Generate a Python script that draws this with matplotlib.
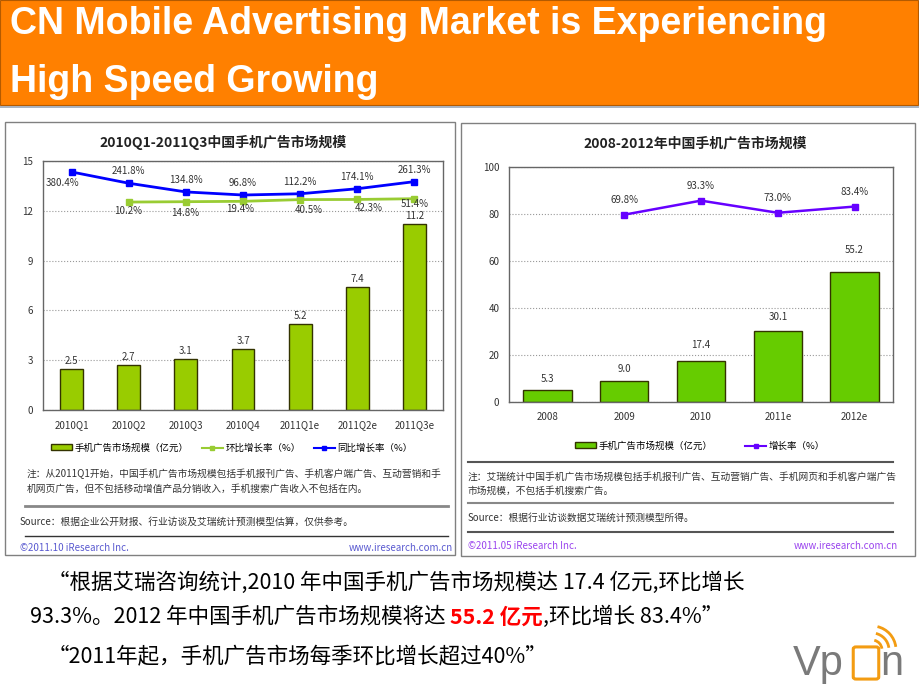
import matplotlib
matplotlib.use('Agg')
import matplotlib.pyplot as plt
from matplotlib.patches import Rectangle, Patch, FancyBboxPatch, Arc
from matplotlib.lines import Line2D

plt.rcParams['font.family'] = ['Noto Sans CJK SC', 'DejaVu Sans']

# 左图: 季度数据
q_labels = ['2010Q1', '2010Q2', '2010Q3', '2010Q4', '2011Q1e', '2011Q2e', '2011Q3e']
q_size = [2.5, 2.7, 3.1, 3.7, 5.2, 7.4, 11.2]
q_qoq = [10.2, 14.8, 19.4, 40.5, 42.3, 51.4]          # 环比, 从2010Q2开始
q_yoy = [380.4, 241.8, 134.8, 96.8, 112.2, 174.1, 261.3]  # 同比

# 右图: 年度数据
y_labels = ['2008', '2009', '2010', '2011e', '2012e']
y_size = [5.3, 9.0, 17.4, 30.1, 55.2]
y_growth = [69.8, 93.3, 73.0, 83.4]                   # 从2009开始

W, H = 920, 690
fig = plt.figure(figsize=(9.2, 6.9), dpi=100)


def box(x0, y0, x1, y1):
    return [x0 / W, 1 - y1 / H, (x1 - x0) / W, (y1 - y0) / H]


def ftext(x, y, s, **kw):
    return fig.text(x / W, 1 - y / H, s, **kw)


def hline(x0, x1, y, **kw):
    fig.add_artist(Line2D([x0 / W, x1 / W], [1 - y / H, 1 - y / H], **kw))


def rect(x0, y0, x1, y1, **kw):
    fig.add_artist(Rectangle((x0 / W, 1 - y1 / H), (x1 - x0) / W, (y1 - y0) / H,
                             transform=fig.transFigure, **kw))


### 标题栏
rect(0, 0, 918, 105, facecolor='#FF8000', edgecolor='#b35a00', lw=0.8)
hline(0, 920, 107, color='#9aa5b5', lw=1.2)
title_font = ['Liberation Sans Narrow', 'Liberation Sans']
ftext(10, 24, 'CN Mobile Advertising Market is Experiencing', color='white',
      fontsize=27, fontweight='bold', va='center', family=title_font)
ftext(10, 82, 'High Speed Growing', color='white',
      fontsize=27, fontweight='bold', va='center', family=title_font)

### 面板边框
rect(5, 122, 455, 555, facecolor='none', edgecolor='#808080', lw=1)
rect(461, 123, 915, 556, facecolor='none', edgecolor='#808080', lw=1)


def style_axes(ax, ymax, step):
    ax.set_ylim(0, ymax)
    ax.set_yticks(range(0, ymax + 1, step))
    ax.grid(axis='y', linestyle=':', color='#999999', lw=0.8)
    ax.set_axisbelow(True)
    ax.tick_params(length=0, labelsize=7, colors='#333333', pad=7)
    for s in ax.spines.values():
        s.set_color('#666666')
        s.set_linewidth(1)


def hide_twin(ax2):
    ax2.set_yticks([])
    for s in ax2.spines.values():
        s.set_visible(False)


### 左图
ax = fig.add_axes(box(43, 161, 443, 410))
xq = range(len(q_labels))
ax.bar(xq, q_size, width=0.4, color='#99CC00', edgecolor='#333300', lw=1)
ax.set_xlim(-0.5, len(q_labels) - 0.5)
ax.set_xticks(list(xq))
ax.set_xticklabels(q_labels)
style_axes(ax, 15, 3)
for i, v in enumerate(q_size):
    ax.annotate(f'{v:.1f}', (i, v), xytext=(0, 8), textcoords='offset pixels',
                ha='center', va='center', fontsize=7, color='#333333')

ax2 = ax.twinx()
ax2.set_ylim(-2546, 515)
hide_twin(ax2)
ax2.plot(list(xq), q_yoy, color='#0000FF', lw=2, marker='s', ms=5)
ax2.plot(list(xq)[1:], q_qoq, color='#99CC33', lw=2, marker='s', ms=5)
for i, v in enumerate(q_yoy):
    off = (-9, -11) if i == 0 else (0, 12)
    ax2.annotate(f'{v:.1f}%', (i, v), xytext=off, textcoords='offset pixels',
                 ha='center', va='center', fontsize=7, color='#333333')
qoq_off = [(-1, -9), (-1, -11), (-3, -8), (9, -10), (11, -9), (0, -5)]
for i, v in enumerate(q_qoq):
    ax2.annotate(f'{v:.1f}%', (i + 1, v), xytext=qoq_off[i], textcoords='offset pixels',
                 ha='center', va='center', fontsize=7, color='#333333')

ftext(223, 142, '2010Q1-2011Q3中国手机广告市场规模', ha='center', va='center',
      fontsize=10, fontweight='bold', color='#222222')

handles = [Patch(facecolor='#99CC00', edgecolor='#333300'),
           Line2D([], [], color='#99CC33', lw=1.5, marker='s', ms=3),
           Line2D([], [], color='#0000FF', lw=1.5, marker='s', ms=3)]
fig.legend(handles, ['手机广告市场规模（亿元）', '环比增长率（%）', '同比增长率（%）'],
           loc='center', bbox_to_anchor=(232 / W, 1 - 448 / H), ncol=3,
           frameon=False, fontsize=6.8, handlelength=2.2, handleheight=0.6,
           columnspacing=1.4, handletextpad=0.3)

note_kw = dict(fontsize=7, color='#333333', va='center')
ftext(27, 474, '注：从2011Q1开始，中国手机广告市场规模包括手机报刊广告、手机客户端广告、互动营销和手', **note_kw)
ftext(27, 489, '机网页广告，但不包括移动增值产品分销收入，手机搜索广告收入不包括在内。', **note_kw)
hline(25, 448, 506, color='#888888', lw=2)
ftext(20, 522, 'Source：根据企业公开财报、行业访谈及艾瑞统计预测模型估算，仅供参考。', **note_kw)
hline(25, 448, 536, color='#333333', lw=1)
ftext(20, 548, '©2011.10 iResearch Inc.', fontsize=7, color='#5a5ad0', va='center')
ftext(453, 548, 'www.iresearch.com.cn', fontsize=7, color='#5a5ad0', va='center', ha='right')

### 右图
bx = fig.add_axes(box(509, 167, 893, 402))
xy = range(len(y_labels))
bx.bar(xy, y_size, width=0.63, color='#66CC00', edgecolor='#333300', lw=1)
bx.set_xlim(-0.5, len(y_labels) - 0.5)
bx.set_xticks(list(xy))
bx.set_xticklabels(y_labels)
style_axes(bx, 100, 20)
bar_off = [11, 12, 16, 14, 22]
for i, v in enumerate(y_size):
    bx.annotate(f'{v:.1f}', (i, v), xytext=(0, bar_off[i]), textcoords='offset pixels',
                ha='center', va='center', fontsize=7, color='#333333')

bx2 = bx.twinx()
bx2.set_ylim(-242.7, 149.4)
hide_twin(bx2)
bx2.plot(list(xy)[1:], y_growth, color='#6600FF', lw=1.8, marker='s', ms=5)
for i, v in enumerate(y_growth):
    bx2.annotate(f'{v:.1f}%', (i + 1, v), xytext=(0, 15), textcoords='offset pixels',
                 ha='center', va='center', fontsize=7, color='#333333')

ftext(695, 143, '2008-2012年中国手机广告市场规模', ha='center', va='center',
      fontsize=10, fontweight='bold', color='#222222')

handles = [Patch(facecolor='#66CC00', edgecolor='#333300'),
           Line2D([], [], color='#6600FF', lw=1.5, marker='s', ms=3)]
fig.legend(handles, ['手机广告市场规模（亿元）', '增长率（%）'],
           loc='center', bbox_to_anchor=(700 / W, 1 - 446 / H), ncol=2,
           frameon=False, fontsize=6.8, handlelength=2.2, handleheight=0.6,
           columnspacing=3.5, handletextpad=0.3)

hline(468, 893, 462, color='#555555', lw=1.5)
ftext(468, 477, '注：艾瑞统计中国手机广告市场规模包括手机报刊广告、互动营销广告、手机网页和手机客户端广告', **note_kw)
ftext(468, 491, '市场规模，不包括手机搜索广告。', **note_kw)
hline(468, 893, 503, color='#888888', lw=1.5)
ftext(468, 518, 'Source：根据行业访谈数据艾瑞统计预测模型所得。', **note_kw)
hline(468, 893, 532, color='#555555', lw=1.5)
ftext(468, 546, '©2011.05 iResearch Inc.', fontsize=7, color='#9a44ee', va='center')
ftext(898, 546, 'www.iresearch.com.cn', fontsize=7, color='#9a44ee', va='center', ha='right')

### 下方文字
r = fig.canvas.get_renderer()


def chain(x, y, parts):
    for s, kw in parts:
        t = ftext(x, y, s, va='center', fontsize=15.5, **kw)
        x = t.get_window_extent(renderer=r).x1


plain = dict(color='black')
red = dict(color='#FF0000', fontweight='bold')
chain(48, 583, [('“根据艾瑞咨询统计,2010 年中国手机广告市场规模达 17.4 亿元,环比增长', plain)])
chain(30, 617, [('93.3%。2012 年中国手机广告市场规模将达 ', plain),
                ('55.2 亿元', red),
                (',环比增长 83.4%”', plain)])
chain(48, 657, [('“2011年起，手机广告市场每季环比增长超过40%”', plain)])

### Vpon logo
logo_font = ['Liberation Sans', 'DejaVu Sans']
ftext(793, 664, 'Vp', fontsize=30, color='#7a7a7a', va='center', family=logo_font)
ftext(880, 664, 'n', fontsize=30, color='#7a7a7a', va='center', family=logo_font)
fig.add_artist(FancyBboxPatch((856 / W, 1 - 677 / H), 20 / W, 28 / H,
                              boxstyle='round,pad=0.003', transform=fig.transFigure,
                              facecolor='none', edgecolor='#F39C12', lw=2.2))
for rr in (10, 17, 24):
    fig.add_artist(Arc((872 / W, 1 - 650 / H), rr * 2 / W, rr * 2 / H, theta1=10, theta2=80,
                       transform=fig.transFigure, color='#F39C12', lw=2))

fig.savefig('out.png', dpi=100)
